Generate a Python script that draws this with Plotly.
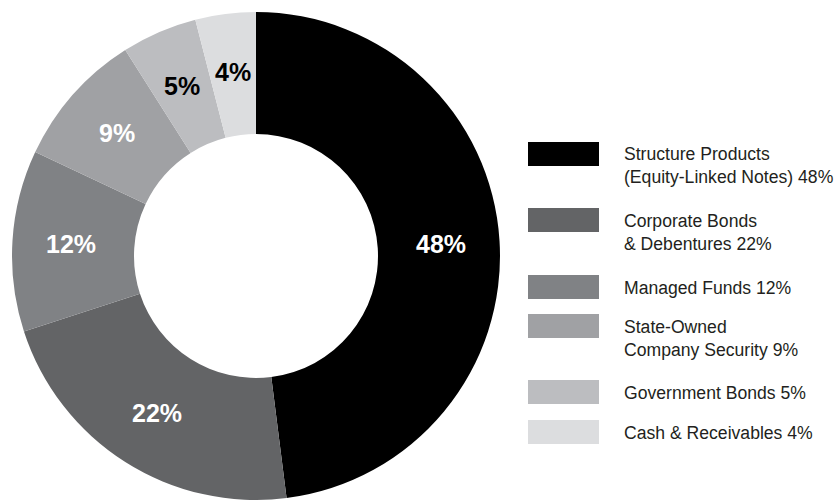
import math
import plotly.graph_objects as go

# ---- data ----
categories = [
    "Structure Products<br>(Equity-Linked Notes)",
    "Corporate Bonds<br>& Debentures",
    "Managed Funds",
    "State-Owned<br>Company Security",
    "Government Bonds",
    "Cash & Receivables",
]
shares = [48, 22, 12, 9, 5, 4]

# ---- style ----
colors = ["#000000", "#636466", "#808285", "#a0a1a4", "#bcbdc0", "#dcdddf"]
label_colors = ["#ffffff", "#ffffff", "#ffffff", "#ffffff", "#000000", "#000000"]
W, H = 836, 500
legend_row_top_px = [142, 208, 275, 314, 380, 420]  # swatch top (pixels)
swatch_x0, swatch_x1, swatch_h = 528, 599, 24
text_x = 622

# pie geometry (pixels)
pie_cx, pie_cy, pie_r = 256, 256, 244
hole = 0.5
label_r_frac = 0.76

fig = go.Figure()
fig.add_trace(go.Pie(
    labels=categories,
    values=shares,
    textinfo="none",
    marker=dict(colors=colors, line=dict(width=0)),
    hole=hole,
    sort=False,
    direction="clockwise",
    rotation=0,
    domain=dict(x=[(pie_cx - pie_r) / W, (pie_cx + pie_r) / W],
                y=[1 - (pie_cy + pie_r) / H, 1 - (pie_cy - pie_r) / H]),
    showlegend=False,
    hoverinfo="label+value",
))

shapes = []
annotations = []
total = sum(shares)
cum = 0.0
for i, v in enumerate(shares):
    mid = (cum + v / 2) / total * 2 * math.pi  # clockwise from 12 o'clock
    cum += v
    r = pie_r * label_r_frac
    px = pie_cx + r * math.sin(mid)
    py = pie_cy - r * math.cos(mid)
    annotations.append(dict(
        xref="paper", yref="paper", x=px / W, y=1 - py / H,
        xanchor="center", yanchor="middle", showarrow=False,
        text=f"<b>{v}%</b>",
        font=dict(family="Liberation Sans, Arial, sans-serif", size=25,
                  color=label_colors[i]),
    ))

for i, (cat, v) in enumerate(zip(categories, shares)):
    top = legend_row_top_px[i]
    shapes.append(dict(
        type="rect", xref="paper", yref="paper",
        x0=swatch_x0 / W, x1=swatch_x1 / W,
        y0=1 - top / H, y1=1 - (top + swatch_h) / H,
        fillcolor=colors[i], line=dict(width=0),
    ))
    center = top + swatch_h / 2
    annotations.append(dict(
        xref="paper", yref="paper",
        x=text_x / W, y=1 - (center - 11.5) / H,
        xanchor="left", yanchor="top", align="left",
        text=f"{cat} {v}%", showarrow=False,
        font=dict(family="Liberation Sans, Arial, sans-serif", size=17.6, color="#231f20"),
    ))

fig.update_layout(
    width=W, height=H,
    margin=dict(l=0, r=0, t=0, b=0),
    paper_bgcolor="white", plot_bgcolor="white",
    shapes=shapes, annotations=annotations,
)

fig.write_html("out.html")
